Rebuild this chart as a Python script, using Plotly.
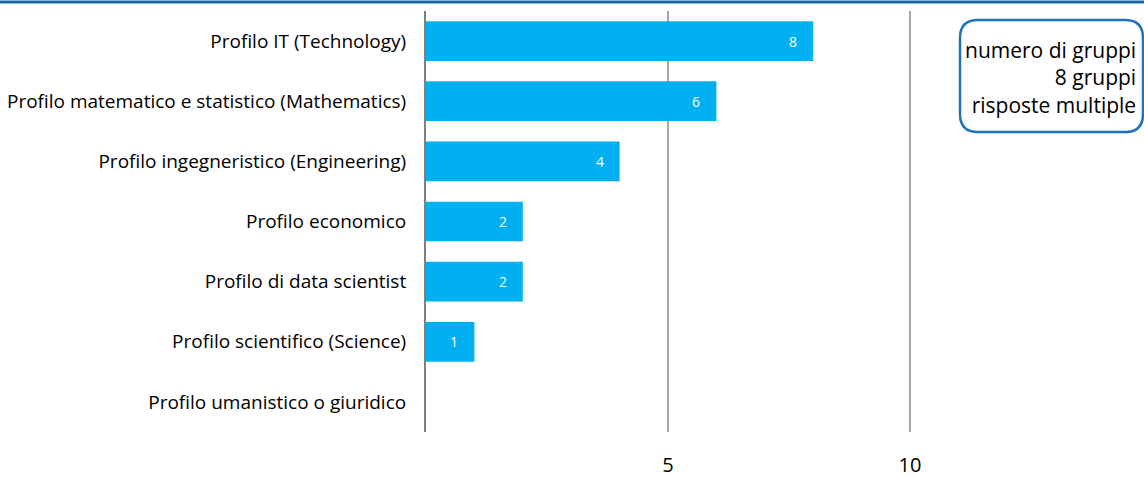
import plotly.graph_objects as go

categories = [
    "Profilo IT (Technology)",
    "Profilo matematico e statistico (Mathematics)",
    "Profilo ingegneristico (Engineering)",
    "Profilo economico",
    "Profilo di data scientist",
    "Profilo scientifico (Science)",
    "Profilo umanistico o giuridico",
]
counts = [8, 6, 4, 2, 2, 1, 0]
box_lines = ["numero di gruppi", "8 gruppi", "risposte multiple"]

W, H = 1144, 477
L, R, T, B = 426, 0, 11, 45
PX_PER_UNIT = 48.4
pw, ph = W - L - R, H - T - B


def px(x):
    # window pixel -> paper
    return (x - L) / pw


def py(y):
    return (H - B - y) / ph


FONT = "'Open Sans', sans-serif"
BAR = "#00B0F0"

fig = go.Figure(
    go.Bar(
        x=counts,
        y=categories,
        orientation="h",
        marker=dict(color=BAR, line=dict(width=0)),
        hoverinfo="skip",
        showlegend=False,
    )
)

for c, v in zip(categories, counts):
    if v > 0:
        fig.add_annotation(
            x=v, y=c, xref="x", yref="y", text=str(v), showarrow=False,
            xanchor="center", xshift=-20,
            font=dict(family=FONT, size=14, color="white"),
        )

# rounded box, top right
x0, x1, y0, y1, r = px(960), px(1143), py(20), py(132), 18
rx, ry = r / pw, r / ph
path = (
    f"M {x0 + rx},{y0} L {x1 - rx},{y0} Q {x1},{y0} {x1},{y0 - ry} "
    f"L {x1},{y1 + ry} Q {x1},{y1} {x1 - rx},{y1} L {x0 + rx},{y1} "
    f"Q {x0},{y1} {x0},{y1 + ry} L {x0},{y0 - ry} Q {x0},{y0} {x0 + rx},{y0} Z"
)
fig.add_shape(type="path", path=path, xref="paper", yref="paper",
              line=dict(color="#1F72C0", width=2.5), fillcolor="white")
fig.add_annotation(
    x=px(1138), y=py(78), xref="paper", yref="paper", showarrow=False,
    text="<br>".join(box_lines), align="right", xanchor="right", yanchor="middle",
    font=dict(family=FONT, size=21, color="black"),
)

# top rule
fig.add_shape(type="line", xref="paper", yref="paper", x0=px(-10), x1=px(1160),
              y0=py(2), y1=py(2), line=dict(color="#1565A8", width=3))

fig.update_layout(
    width=W, height=H,
    margin=dict(l=L, r=R, t=T, b=B),
    plot_bgcolor="white", paper_bgcolor="white",
    bargap=0.34,
    font=dict(family=FONT, color="black"),
)
fig.update_xaxes(
    range=[0, pw / PX_PER_UNIT],
    tickvals=[5, 10], ticktext=["5", "10"],
    showgrid=True, gridcolor="#A6A6A6", gridwidth=1.5,
    zeroline=False, showline=False,
    tickfont=dict(size=20, family=FONT),
    ticklabelstandoff=19,
    automargin=False,
)
fig.update_yaxes(
    autorange="reversed",
    showgrid=False,
    showline=True, linecolor="#808080", linewidth=2,
    tickfont=dict(size=19, family=FONT),
    ticklabelstandoff=14,
    automargin=False,
)

# drop the default body margin so the figure sits at the window's corner
fig.write_html(
    "out.html",
    config={"displayModeBar": False},
    post_script="document.body.style.margin = '0';",
)
